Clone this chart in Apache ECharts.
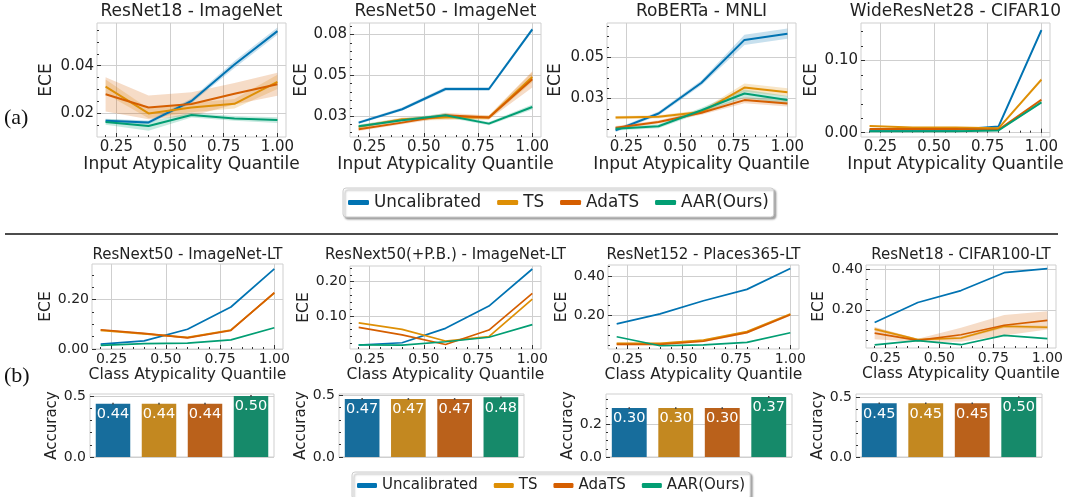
<!DOCTYPE html>
<html><head><meta charset="utf-8">
<script src="https://cdn.jsdelivr.net/npm/echarts@6/dist/echarts.min.js"></script>
<style>html,body{margin:0;padding:0;background:#fff}#c{width:1068px;height:497px}</style>
</head><body><div id="c"></div>
<script>
// ================= DATA =================
const QUANTILES = [0.2, 0.4, 0.6, 0.8, 1.0];
const X_TICKS = [0.25, 0.5, 0.75, 1.0];
const METHODS = ['Uncalibrated', 'TS', 'AdaTS', 'AAR(Ours)'];

// (a) ResNet18 - ImageNet
const r18in_unc = [0.0169, 0.0162, 0.0252, 0.0405, 0.0545];
const r18in_ts  = [0.0312, 0.0200, 0.0225, 0.0240, 0.0332];
const r18in_ada = [0.0280, 0.0225, 0.0239, 0.0282, 0.0322];
const r18in_aar = [0.0164, 0.0147, 0.0193, 0.0179, 0.0172];
const r18in_unc_ci = [0.0008, 0.0008, 0.0010, 0.0015, 0.0015];
const r18in_ts_ci  = [0.0030, 0.0020, 0.0020, 0.0020, 0.0030];
const r18in_ada_ci = [0.0072, 0.0050, 0.0050, 0.0045, 0.0048];
const r18in_aar_ci = [0.0012, 0.0020, 0.0010, 0.0010, 0.0012];
const r18in_yticks = [0.02, 0.04];
const r18in_ylabels = ['0.02', '0.04'];

// (a) ResNet50 - ImageNet
const r50in_unc = [0.0211, 0.0293, 0.0417, 0.0417, 0.0782];
const r50in_ts  = [0.0185, 0.0232, 0.0242, 0.0242, 0.0490];
const r50in_ada = [0.0170, 0.0211, 0.0256, 0.0242, 0.0476];
const r50in_aar = [0.0189, 0.0226, 0.0256, 0.0205, 0.0307];
const r50in_unc_ci = [0.0008, 0.0010, 0.0012, 0.0012, 0.0012];
const r50in_ts_ci  = [0.0010, 0.0010, 0.0015, 0.0012, 0.0030];
const r50in_ada_ci = [0.0010, 0.0010, 0.0015, 0.0012, 0.0050];
const r50in_aar_ci = [0.0010, 0.0010, 0.0012, 0.0010, 0.0015];
const r50in_yticks = [0.025, 0.05, 0.075];
const r50in_ylabels = ['0.03', '0.05', '0.08'];

// (a) RoBERTa - MNLI
const rob_unc = [0.0145, 0.0227, 0.0376, 0.0584, 0.0614];
const rob_ts  = [0.0207, 0.0211, 0.0234, 0.0353, 0.0330];
const rob_ada = [0.0158, 0.0186, 0.0231, 0.0292, 0.0276];
const rob_aar = [0.0153, 0.0165, 0.0243, 0.0324, 0.0292];
const rob_unc_ci = [0.0008, 0.0010, 0.0012, 0.0025, 0.0025];
const rob_ts_ci  = [0.0008, 0.0008, 0.0010, 0.0020, 0.0020];
const rob_ada_ci = [0.0008, 0.0008, 0.0010, 0.0015, 0.0015];
const rob_aar_ci = [0.0008, 0.0010, 0.0012, 0.0020, 0.0020];
const rob_yticks = [0.03, 0.05];
const rob_ylabels = ['0.03', '0.05'];

// (a) WideResNet28 - CIFAR10
const wrn_unc = [0.0040, 0.0040, 0.0040, 0.0084, 0.1420];
const wrn_ts  = [0.0093, 0.0070, 0.0070, 0.0060, 0.0735];
const wrn_ada = [0.0050, 0.0050, 0.0050, 0.0040, 0.0456];
const wrn_aar = [0.0020, 0.0020, 0.0020, 0.0030, 0.0420];
const wrn_unc_ci = [0.0005, 0.0005, 0.0005, 0.0010, 0.0020];
const wrn_ts_ci  = [0.0008, 0.0005, 0.0008, 0.0005, 0.0025];
const wrn_ada_ci = [0.0005, 0.0005, 0.0005, 0.0005, 0.0020];
const wrn_aar_ci = [0.0005, 0.0005, 0.0005, 0.0005, 0.0020];
const wrn_yticks = [0.0, 0.1];
const wrn_ylabels = ['0.00', '0.10'];

// (b) ResNext50 - ImageNet-LT
const rx_unc = [0.020, 0.033, 0.080, 0.170, 0.324];
const rx_ts  = [0.075, 0.061, 0.047, 0.077, 0.226];
const rx_ada = [0.078, 0.063, 0.045, 0.075, 0.228];
const rx_aar = [0.015, 0.022, 0.024, 0.037, 0.086];
const rx_ts_ci  = [0.003, 0.003, 0.003, 0.003, 0.004];
const rx_ada_ci = [0.003, 0.003, 0.003, 0.004, 0.004];
const rx_yticks = [0.0, 0.2];
const rx_ylabels = ['0.00', '0.20'];
const rx_acc = [0.437, 0.437, 0.437, 0.500];
const rx_acc_err = [0.007, 0.007, 0.007, 0.007];

// (b) ResNext50(+P.B.) - ImageNet-LT
const rxpb_unc = [0.0155, 0.022, 0.064, 0.129, 0.237];
const rxpb_ts  = [0.080, 0.061, 0.027, 0.040, 0.149];
const rxpb_ada = [0.067, 0.045, 0.017, 0.059, 0.166];
const rxpb_aar = [0.016, 0.015, 0.025, 0.038, 0.075];
const rxpb_yticks = [0.1, 0.2];
const rxpb_ylabels = ['0.10', '0.20'];
const rxpb_acc = [0.468, 0.468, 0.468, 0.481];
const rxpb_acc_err = [0.007, 0.007, 0.007, 0.007];

// (b) ResNet152 - Places365-LT
const pl_unc = [0.156, 0.207, 0.274, 0.332, 0.438];
const pl_ts  = [0.057, 0.057, 0.074, 0.117, 0.207];
const pl_ada = [0.052, 0.052, 0.068, 0.112, 0.203];
const pl_aar = [0.091, 0.045, 0.049, 0.062, 0.111];
const pl_ts_ci  = [0.004, 0.004, 0.004, 0.005, 0.005];
const pl_ada_ci = [0.004, 0.004, 0.004, 0.005, 0.005];
const pl_yticks = [0.2, 0.4];
const pl_ylabels = ['0.20', '0.40'];
const pl_acc = [0.298, 0.298, 0.298, 0.366];
const pl_acc_err = [0.006, 0.006, 0.006, 0.006];

// (b) ResNet18 - CIFAR100-LT
const c100_unc = [0.138, 0.236, 0.295, 0.383, 0.403];
const c100_ts  = [0.105, 0.053, 0.061, 0.119, 0.114];
const c100_ada = [0.085, 0.049, 0.077, 0.124, 0.148];
const c100_aar = [0.027, 0.048, 0.028, 0.074, 0.058];
const c100_ts_ci  = [0.008, 0.004, 0.006, 0.008, 0.008];
const c100_ada_ci = [0.030, 0.008, 0.035, 0.050, 0.045];
const c100_yticks = [0.2, 0.4];
const c100_ylabels = ['0.20', '0.40'];
const c100_acc = [0.448, 0.448, 0.448, 0.500];
const c100_acc_err = [0.007, 0.007, 0.007, 0.007];

const acc_yticks_05 = [0.0, 0.5];
const acc_ylabels_05 = ['0.0', '0.5'];
const acc_yticks_02 = [0.0, 0.2];
const acc_ylabels_02 = ['0.0', '0.2'];

// ================= STYLE / LAYOUT =================
const FONT = 'DejaVu Sans';
const TXT = '#222222';
const GRIDC = '#cfcfcf';
const TICKC = '#333333';
const LINE_COLORS = ['#0173b2', '#de8f05', '#d55e00', '#029e73'];
const BAR_COLORS = ['#176d9c', '#c38820', '#ba611b', '#168a6a'];
const X_MIN = 0.16, X_MAX = 1.04;

const TOP = {tick: 15, name: 17, title: 17, lw: 2.0, xname: 'Input Atypicality Quantile', xGap: 14, xMargin: 3, titleY: 12};
const BOT = {tick: 14, name: 15.5, title: 15, lw: 1.7, xname: 'Class Atypicality Quantile', xGap: 16, xMargin: 3, titleY: 255};

const LINE_PANELS = [
  {st: TOP, title: 'ResNet18 - ImageNet', left: 97, top: 23, width: 189, height: 114, ymin: 0.0101, ymax: 0.0579, yticks: r18in_yticks, ylabels: r18in_ylabels, yminor: 0.005, yGap: 42,
   vals: [r18in_unc, r18in_ts, r18in_ada, r18in_aar], cis: [r18in_unc_ci, r18in_ts_ci, r18in_ada_ci, r18in_aar_ci]},
  {st: TOP, title: 'ResNet50 - ImageNet', left: 350, top: 23, width: 191, height: 114, ymin: 0.0123, ymax: 0.0821, yticks: r50in_yticks, ylabels: r50in_ylabels, yminor: 0.005, yGap: 40,
   vals: [r50in_unc, r50in_ts, r50in_ada, r50in_aar], cis: [r50in_unc_ci, r50in_ts_ci, r50in_ada_ci, r50in_aar_ci]},
  {st: TOP, title: 'RoBERTa - MNLI', left: 607, top: 23, width: 189, height: 114, ymin: 0.0113, ymax: 0.0666, yticks: rob_yticks, ylabels: rob_ylabels, yminor: 0.005, yGap: 43,
   vals: [rob_unc, rob_ts, rob_ada, rob_aar], cis: [rob_unc_ci, rob_ts_ci, rob_ada_ci, rob_aar_ci]},
  {st: TOP, title: 'WideResNet28 - CIFAR10', left: 861, top: 23, width: 189, height: 114, ymin: -0.006, ymax: 0.152, yticks: wrn_yticks, ylabels: wrn_ylabels, yminor: 0.02, yGap: 41,
   vals: [wrn_unc, wrn_ts, wrn_ada, wrn_aar], cis: [wrn_unc_ci, wrn_ts_ci, wrn_ada_ci, wrn_aar_ci]},
  {st: BOT, title: 'ResNext50 - ImageNet-LT', left: 92, top: 264, width: 191, height: 85, ymin: 0.0, ymax: 0.344, yticks: rx_yticks, ylabels: rx_ylabels, yminor: 0.05, yGap: 38,
   vals: [rx_unc, rx_ts, rx_ada, rx_aar], cis: [null, rx_ts_ci, rx_ada_ci, null]},
  {st: BOT, title: 'ResNext50(+P.B.) - ImageNet-LT', left: 350, top: 266, width: 191, height: 83, ymin: 0.0038, ymax: 0.2458, yticks: rxpb_yticks, ylabels: rxpb_ylabels, yminor: 0.02, yGap: 38,
   vals: [rxpb_unc, rxpb_ts, rxpb_ada, rxpb_aar], cis: [null, null, null, null]},
  {st: BOT, title: 'ResNet152 - Places365-LT', left: 608, top: 265, width: 191, height: 84, ymin: 0.0285, ymax: 0.456, yticks: pl_yticks, ylabels: pl_ylabels, yminor: 0.05, yGap: 38,
   vals: [pl_unc, pl_ts, pl_ada, pl_aar], cis: [null, pl_ts_ci, pl_ada_ci, null]},
  {st: BOT, title: 'ResNet18 - CIFAR100-LT', left: 866, top: 265, width: 190, height: 83, ymin: 0.0118, ymax: 0.421, yticks: c100_yticks, ylabels: c100_ylabels, yminor: 0.05, yGap: 39,
   vals: [c100_unc, c100_ts, c100_ada, c100_aar], cis: [null, c100_ts_ci, c100_ada_ci, null]}
];

const BAR_PANELS = [
  {left: 90, top: 394, width: 184, height: 63, ymax: 0.516, yticks: acc_yticks_05, ylabels: acc_ylabels_05, yminor: 0.1, yGap: 27, vals: rx_acc, errs: rx_acc_err},
  {left: 339, top: 394, width: 185, height: 63, ymax: 0.508, yticks: acc_yticks_05, ylabels: acc_ylabels_05, yminor: 0.1, yGap: 26, vals: rxpb_acc, errs: rxpb_acc_err},
  {left: 606, top: 394, width: 186, height: 63, ymax: 0.384, yticks: acc_yticks_02, ylabels: acc_ylabels_02, yminor: 0.05, yGap: 27, vals: pl_acc, errs: pl_acc_err},
  {left: 856, top: 394, width: 186, height: 63, ymax: 0.525, yticks: acc_yticks_05, ylabels: acc_ylabels_05, yminor: 0.1, yGap: 26, vals: c100_acc, errs: c100_acc_err}
];

// ================= BUILD =================
function minorVals(min, max, step) {
  const out = [];
  const k0 = Math.ceil(min / step - 1e-6), k1 = Math.floor(max / step + 1e-6);
  for (let k = k0; k <= k1; k++) out.push(+(k * step).toFixed(8));
  return out;
}
function labelFor(ticks, labels) {
  return function (v) {
    const i = ticks.findIndex(t => Math.abs(t - v) < 1e-9);
    return i >= 0 ? labels[i] : '';
  };
}

const option = {
  animation: false, backgroundColor: '#ffffff', textStyle: {fontFamily: FONT},
  grid: [], xAxis: [], yAxis: [], series: [], legend: [], graphic: []
};

function minorAxis(gi, min, max, step, pos) {
  return {
    type: 'value', gridIndex: gi, min: min, max: max, position: pos,
    axisLine: {show: false}, axisLabel: {show: false}, splitLine: {show: false},
    axisTick: {show: true, inside: true, length: 2, customValues: minorVals(min, max, step), lineStyle: {color: TICKC, width: 1}}
  };
}

function yMajorAxis(gi, p, name, fsTick, fsName, margin) {
  return {
    type: 'value', gridIndex: gi, min: p.ymin, max: p.ymax, position: 'left',
    name: name, nameLocation: 'middle', nameGap: p.yGap,
    nameTextStyle: {fontSize: fsName, color: TXT, fontFamily: FONT},
    axisLine: {show: false},
    axisTick: {show: true, inside: true, length: 4, customValues: p.yticks, lineStyle: {color: TICKC, width: 1}},
    axisLabel: {customValues: p.yticks, formatter: labelFor(p.yticks, p.ylabels), fontSize: fsTick, color: TXT, fontFamily: FONT, margin: margin},
    splitLine: {show: true, lineStyle: {color: GRIDC, width: 1}}
  };
}

// band polygon drawn through the axis scales (api.coord)
function bandSeries(xi, yi, v, ci, color) {
  return {
    type: 'custom', xAxisIndex: xi, yAxisIndex: yi, silent: true, z: 1, clip: true,
    data: [[QUANTILES[0], v[0]]],
    renderItem: function (params, api) {
      const upper = QUANTILES.map((x, k) => api.coord([x, v[k] + ci[k]]));
      const lower = QUANTILES.map((x, k) => api.coord([x, v[k] - ci[k]])).reverse();
      return {type: 'polygon', shape: {points: upper.concat(lower)}, style: {fill: color, opacity: 0.22}};
    }
  };
}

function addLinePanel(p) {
  const st = p.st;
  const gi = option.grid.length;
  option.grid.push({left: p.left, top: p.top, width: p.width, height: p.height, show: true, borderColor: GRIDC, borderWidth: 1, backgroundColor: '#fff'});
  const xi = option.xAxis.length;
  option.xAxis.push({
    type: 'value', gridIndex: gi, min: X_MIN, max: X_MAX, position: 'bottom',
    name: st.xname, nameLocation: 'middle', nameGap: st.xGap,
    nameTextStyle: {fontSize: st.name, color: TXT, fontFamily: FONT},
    axisLine: {show: false},
    axisTick: {show: true, inside: true, length: 4, customValues: X_TICKS, lineStyle: {color: TICKC, width: 1}},
    axisLabel: {customValues: X_TICKS, formatter: v => v.toFixed(2), fontSize: st.tick, color: TXT, fontFamily: FONT, margin: st.xMargin},
    splitLine: {show: true, lineStyle: {color: GRIDC, width: 1}}
  });
  option.xAxis.push(minorAxis(gi, X_MIN, X_MAX, 0.05, 'bottom'));
  const yi = option.yAxis.length;
  option.yAxis.push(yMajorAxis(gi, p, 'ECE', st.tick, st.name, 3));
  option.yAxis.push(minorAxis(gi, p.ymin, p.ymax, p.yminor, 'left'));

  p.vals.forEach((v, i) => {
    if (p.cis[i]) option.series.push(bandSeries(xi, yi, v, p.cis[i], LINE_COLORS[i]));
  });
  p.vals.forEach((v, i) => {
    option.series.push({
      type: 'line', name: METHODS[i], xAxisIndex: xi, yAxisIndex: yi, symbol: 'none', z: 3 + i,
      itemStyle: {color: LINE_COLORS[i]},
      lineStyle: {color: LINE_COLORS[i], width: st.lw},
      data: QUANTILES.map((x, k) => [x, v[k]])
    });
  });
  option.graphic.push({
    type: 'text', x: p.left + p.width / 2, y: st.titleY,
    style: {text: p.title, fontSize: st.title, fontFamily: FONT, fill: TXT, textAlign: 'center', textVerticalAlign: 'middle'}
  });
}

function addBarPanel(p) {
  const gi = option.grid.length;
  option.grid.push({left: p.left, top: p.top, width: p.width, height: p.height, show: true, borderColor: GRIDC, borderWidth: 1, backgroundColor: '#fff'});
  const xi = option.xAxis.length;
  option.xAxis.push({
    type: 'category', gridIndex: gi, data: METHODS, position: 'bottom', boundaryGap: true,
    axisLine: {show: false}, axisTick: {show: false}, axisLabel: {show: false}, splitLine: {show: false}
  });
  const yi = option.yAxis.length;
  const q = Object.assign({ymin: 0}, p);
  option.yAxis.push(yMajorAxis(gi, q, 'Accuracy', 14, 15, 4));
  option.yAxis.push(minorAxis(gi, 0, p.ymax, p.yminor, 'left'));
  option.series.push({
    type: 'bar', name: 'acc_' + gi, xAxisIndex: xi, yAxisIndex: yi, barWidth: '75%', z: 2,
    data: p.vals.map((v, k) => ({value: v, itemStyle: {color: BAR_COLORS[k]}})),
    label: {show: true, position: 'insideTop', distance: 3, color: '#ffffff', fontSize: 14.5, fontFamily: FONT,
            formatter: d => d.value.toFixed(2)}
  });
  option.series.push({
    type: 'custom', xAxisIndex: xi, yAxisIndex: yi, silent: true, z: 5,
    data: p.vals.map((v, k) => [k, v - p.errs[k], v + p.errs[k]]),
    renderItem: function (params, api) {
      const a = api.coord([api.value(0), api.value(1)]);
      const b = api.coord([api.value(0), api.value(2)]);
      return {type: 'line', shape: {x1: a[0], y1: a[1], x2: b[0], y2: b[1]}, style: {stroke: '#444444', lineWidth: 1.5}};
    }
  });
}

LINE_PANELS.forEach(addLinePanel);
BAR_PANELS.forEach(addBarPanel);

const legendBase = {
  data: METHODS, orient: 'horizontal', icon: 'roundRect', selectedMode: false,
  backgroundColor: '#ffffff', borderColor: '#cccccc', borderWidth: 1, borderRadius: 3,
  shadowColor: 'rgba(0,0,0,0.35)', shadowBlur: 2, shadowOffsetX: 2, shadowOffsetY: 2
};
option.legend.push(Object.assign({}, legendBase, {
  left: 343, top: 188, padding: [6, 5, 6, 5], itemGap: 16, itemWidth: 21, itemHeight: 5,
  textStyle: {fontSize: 16.8, color: TXT, fontFamily: FONT}
}));
option.legend.push(Object.assign({}, legendBase, {
  left: 352, top: 472, padding: [6, 5, 6, 5], itemGap: 16, itemWidth: 20, itemHeight: 5,
  textStyle: {fontSize: 15, color: TXT, fontFamily: FONT}
}));

option.graphic.push(
  {type: 'text', x: 4, y: 118, style: {text: '(a)', fontSize: 22, fontFamily: 'Liberation Serif', fill: '#111', textVerticalAlign: 'middle'}},
  {type: 'text', x: 4, y: 376, style: {text: '(b)', fontSize: 22, fontFamily: 'Liberation Serif', fill: '#111', textVerticalAlign: 'middle'}},
  {type: 'line', shape: {x1: 5, y1: 234, x2: 1058, y2: 234}, style: {stroke: '#111', lineWidth: 1.3}}
);

const chart = echarts.init(document.getElementById('c'), null, {renderer: 'canvas'});
chart.setOption(option);
</script></body></html>
